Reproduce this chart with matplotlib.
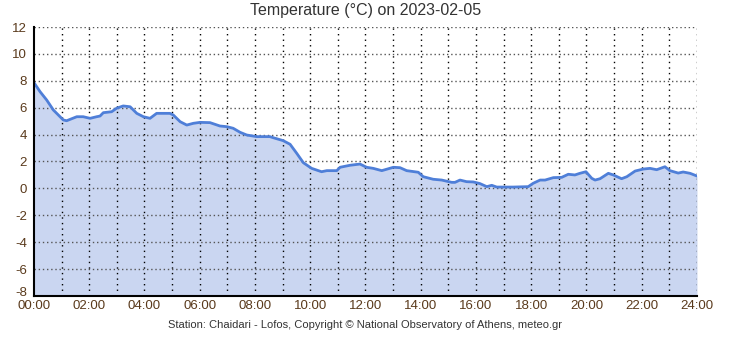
import matplotlib
matplotlib.use("Agg")
import matplotlib.pyplot as plt
import matplotlib.transforms as mtransforms
import numpy as np

hours = [0.0, 0.22, 0.46, 0.70, 1.06, 1.18, 1.55, 1.78, 2.03, 2.27, 2.39, 2.51, 2.81, 2.99,
         3.23, 3.48, 3.72, 3.96, 4.20, 4.44, 4.92, 5.04, 5.29, 5.53, 5.77, 6.01, 6.37, 6.73,
         6.98, 7.21, 7.46, 7.70, 8.06, 8.54, 8.66, 9.02, 9.27, 9.51, 9.75, 10.05, 10.41,
         10.60, 10.96, 11.08, 11.44, 11.80, 12.04, 12.28, 12.59, 13.01, 13.25, 13.49, 13.91,
         14.09, 14.45, 14.76, 15.12, 15.24, 15.42, 15.66, 15.90, 16.14, 16.39, 16.57, 16.75,
         17.35, 17.89, 18.07, 18.32, 18.50, 18.80, 19.10, 19.34, 19.58, 19.76, 19.98, 20.19,
         20.31, 20.49, 20.79, 20.97, 21.27, 21.46, 21.76, 22.06, 22.30, 22.54, 22.84, 23.02,
         23.32, 23.50, 23.75, 24.0]
temps = [7.86, 7.19, 6.57, 5.83, 5.09, 5.03, 5.33, 5.33, 5.21, 5.33, 5.38, 5.63, 5.70, 5.96,
         6.13, 6.07, 5.58, 5.33, 5.21, 5.58, 5.58, 5.46, 4.96, 4.71, 4.84, 4.91, 4.89, 4.64,
         4.59, 4.47, 4.17, 3.97, 3.85, 3.85, 3.77, 3.55, 3.28, 2.61, 1.91, 1.49, 1.24,
         1.32, 1.32, 1.57, 1.72, 1.81, 1.57, 1.49, 1.32, 1.57, 1.54, 1.32, 1.20,
         0.87, 0.68, 0.62, 0.45, 0.45, 0.62, 0.50, 0.48, 0.36, 0.13, 0.23, 0.10,
         0.10, 0.13, 0.38, 0.62, 0.62, 0.80, 0.82, 1.05, 1.00, 1.12, 1.24, 0.75,
         0.62, 0.72, 1.12, 1.00, 0.72, 0.87, 1.29, 1.44, 1.49, 1.39, 1.61, 1.32,
         1.14, 1.22, 1.12, 0.92]

x_ticks = [0, 2, 4, 6, 8, 10, 12, 14, 16, 18, 20, 22, 24]
x_labels = ["00:00", "02:00", "04:00", "06:00", "08:00", "10:00", "12:00", "14:00",
            "16:00", "18:00", "20:00", "22:00", "24:00"]
y_ticks = [-8, -6, -4, -2, 0, 2, 4, 6, 8, 10, 12]

title = "Temperature (\u00b0C) on 2023-02-05"
footer = "Station: Chaidari - Lofos, Copyright \u00a9 National Observatory of Athens, meteo.gr"

plt.rcParams['font.family'] = ['Liberation Sans', 'DejaVu Sans']

fig = plt.figure(figsize=(7.31, 3.37), dpi=100)
ax = fig.add_axes([34/731, 41/337, 663/731, 269/337])

ymin, ymax = -8, 12
ax.fill_between(hours, temps, ymin, color="#cad6f1", lw=0, zorder=1)
ax.plot(hours, temps, color="#4f7fd8", lw=2.0, zorder=3, solid_joinstyle="round")

ax.set_xlim(0, 24)
ax.set_ylim(ymin, ymax)

ax.set_xticks(x_ticks)
ax.set_xticklabels(x_labels)
ax.set_yticks(y_ticks)
ax.set_yticklabels([str(v) for v in y_ticks])

ax.grid(False)
for h in range(1, 25):
    ax.axvline(h, color="black", lw=1.0, ls=(0, (1, 3)), zorder=2)
for v in y_ticks:
    if v == ymin:
        continue
    ax.axhline(v, color="#555555", lw=1.0, ls=(0, (1, 2)), zorder=2)

for s in ["top", "right"]:
    ax.spines[s].set_visible(False)
for s in ["left", "bottom"]:
    ax.spines[s].set_color("black")
    ax.spines[s].set_linewidth(1.5)
    ax.spines[s].set_zorder(4)

ax.tick_params(axis="both", which="both", length=0, labelsize=9.5, labelcolor="#5a3a1c")
ax.tick_params(axis="x", pad=3)
ax.tick_params(axis="y", pad=5)

# nudge the lowest y label up slightly so it sits just above the first x label
lowest = ax.get_yticklabels()[0]
lowest.set_transform(lowest.get_transform() +
                     mtransforms.ScaledTranslation(0, 4/100, fig.dpi_scale_trans))

fig.text(0.5, 0.97, title, ha="center", va="center", fontsize=11.5, color="#333333")
fig.text(0.5, (337-325)/337, footer, ha="center", va="center", fontsize=8, color="#333333")

fig.savefig("out.png", dpi=100)
